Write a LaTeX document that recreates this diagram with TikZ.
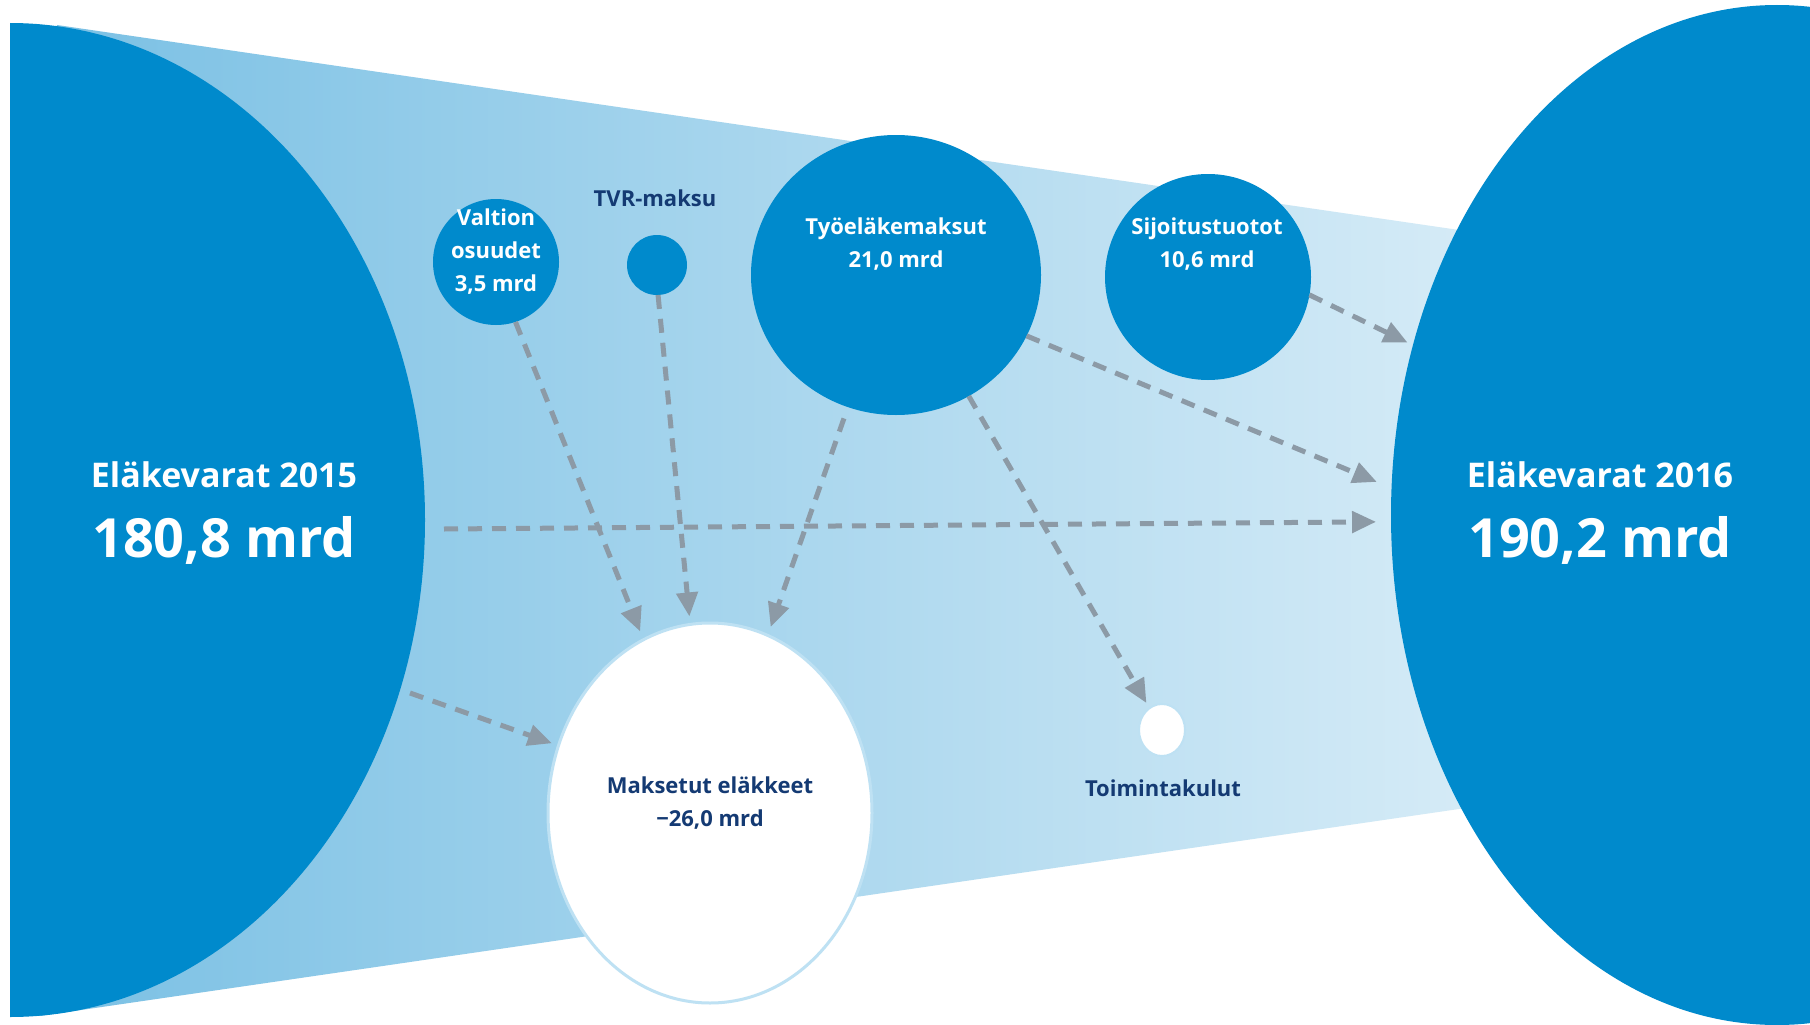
\documentclass[tikz,border=0pt]{standalone}
\usepackage{fontspec}
\setmainfont{Open Sans}
\usetikzlibrary{shapes.geometric,arrows.meta}
\definecolor{mainblue}{RGB}{0,138,204}
\definecolor{bandL}{RGB}{122,192,228}
\definecolor{bandR}{RGB}{215,236,247}
\definecolor{navy}{RGB}{20,58,115}
\definecolor{arrowgray}{RGB}{140,154,166}
\definecolor{rim}{RGB}{190,225,243}
\tikzset{
  bubble/.style={circle, fill=mainblue, draw=none, inner sep=0pt, outer sep=0pt},
  ebubble/.style={ellipse, fill=mainblue, draw=none, inner sep=0pt, outer sep=0pt},
  whitebub/.style={ellipse, fill=white, draw=rim, inner sep=0pt, outer sep=0pt},
  lbl/.style={text=white, font=\bfseries\fontsize{22}{33}\selectfont, align=center, inner sep=0pt},
  dlbl/.style={text=navy, font=\bfseries\fontsize{22}{33}\selectfont, align=center, inner sep=0pt},
  bigA/.style={text=white, font=\bfseries\fontsize{34}{40}\selectfont, anchor=base, inner sep=0pt},
  bigB/.style={text=white, font=\bfseries\fontsize{54}{60}\selectfont, anchor=base, inner sep=0pt},
  flow/.style={draw=arrowgray, line width=5pt, dash pattern=on 14pt off 10pt,
    -{Triangle[length=24pt,width=21pt]}, arrowgray}
}
\begin{document}
\begin{tikzpicture}[x=1pt,y=-1pt]
\useasboundingbox (0,0) rectangle (1810,1025);
\clip (0,0) rectangle (1810,1025);
\fill[white] (0,0) rectangle (1810,1025);
% band
\shade[left color=bandL, right color=bandR] (57,25) -- (1500,236) -- (1500,803) -- (40,1016) -- cycle;
% left big shape
\begin{scope}
\clip (10,0) rectangle (1810,1025);
\fill[mainblue] (10,520) ellipse [x radius=415pt, y radius=497pt];
\end{scope}
\coordinate (lsrcA) at (444,529);
\coordinate (lsrcB) at (410,693);
% right big shape
\node[ebubble, minimum width=772pt, minimum height=1020pt] (right) at (1777,515) {};
% bubbles
\node[bubble, minimum size=126pt] (valtion) at (496,262) {};
\node[bubble, minimum size=60pt] (tvr) at (657,265) {};
\node[ebubble, minimum width=290pt, minimum height=280pt] (tyo) at (896,275) {};
\node[bubble, minimum size=206pt] (sij) at (1208,277) {};
\node[whitebub, line width=3pt, minimum width=324pt, minimum height=380pt] (maks) at (710,813) {};
\node[whitebub, line width=2pt, minimum width=46pt, minimum height=52pt] (toim) at (1162,730) {};
% labels
\node[bigA] (l15a) at (224,487) {Eläkevarat 2015};
\node[bigB] (l15b) at (224,557) {180,8 mrd};
\node[bigA] (l16a) at (1600,487) {Eläkevarat 2016};
\node[bigB] (l16b) at (1600,557) {190,2 mrd};
\node[lbl] (tvaltion) at (496,252) {Valtion\\osuudet\\3,5 mrd};
\node[dlbl] (ttvr) at (655,198) {TVR-maksu};
\node[lbl] (ttyo) at (896,244) {Työeläkemaksut\\21,0 mrd};
\node[lbl] (tsij) at (1207,244) {Sijoitustuotot\\10,6 mrd};
\node[dlbl] (tmaks) at (710,803) {Maksetut eläkkeet\\−26,0 mrd};
\node[dlbl] (ttoim) at (1163,788) {Toimintakulut};
% connectors
\draw[flow, shorten >=9pt] (valtion.-72) -- (maks.111);
\draw[flow, shorten >=8pt] (tvr.-88) -- (maks.96);
\draw[flow, shorten <=12pt, shorten >=9pt] (tyo.-110) -- (maks.72);
\draw[flow, shorten >=6pt] (tyo.-59) -- (toim.120);
\draw[flow, shorten >=16pt] (tyo.-25) -- (right.176);
\draw[flow, shorten >=6pt] (sij.-10) -- (right.155);
\draw[flow, shorten >=15pt] (lsrcA) -- (right.181);
\draw[flow, shorten >=7pt] (lsrcB) -- (maks.156);
\end{tikzpicture}
\end{document}
